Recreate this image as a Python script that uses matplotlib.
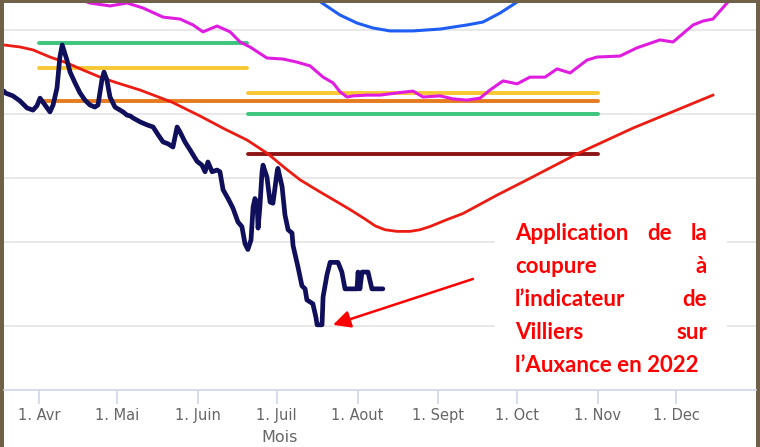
import matplotlib
matplotlib.use("Agg")
import matplotlib.pyplot as plt
from matplotlib.patches import Rectangle

W, H = 760, 447

# Débit journalier 2022 (L/s) ; abscisse en jour de l'année
jours_2022 = [77.6, 78.0, 81.0, 83.7, 86.4, 88.7, 90.2, 91.4, 93.3, 95.2, 96.4, 97.9,
              99.0, 99.9, 101.7, 102.9, 104.8, 106.7, 108.6, 110.5, 112.4, 113.6,
              115.1, 115.9, 117.0, 118.2, 120.1, 123.2, 124.7, 126.0, 127.0, 129.7,
              132.4, 134.7, 136.6, 138.5, 140.4, 142.3, 143.9, 145.0, 146.9, 148.8,
              151.5, 153.4, 154.6, 155.7, 157.3, 159.2, 160.3, 161.5, 163.4, 165.3,
              167.2, 168.7, 169.9, 171.0, 172.2, 173.0, 173.7, 174.5, 174.9, 175.6,
              176.4, 176.8, 178.3, 179.5, 180.6, 182.2, 182.5, 184.1, 185.2, 186.4,
              187.9, 188.3, 190.2, 191.7, 192.9, 193.6, 195.9, 197.1, 197.5, 199.4,
              199.8, 201.3, 202.5, 205.5, 207.0, 208.2, 212.8, 213.2, 213.9, 214.7,
              217.0, 218.5, 222.7]
debit_2022 = [257, 252, 244, 231, 214, 209, 219, 238, 221, 205, 221, 266,
              372, 424, 360, 316, 281, 252, 233, 221, 216, 221,
              290, 316, 290, 241, 216, 205, 198, 196, 192, 184,
              178, 174, 160, 148, 145, 140, 174, 165, 148, 136,
              120, 115, 107, 119, 107, 109, 107, 88, 80, 72,
              62, 59, 49, 46, 51, 73, 80, 77, 58, 73,
              106, 115, 101, 77, 76, 107, 111, 91, 67, 57,
              55, 48, 38, 31, 30, 26.6, 25.5, 21.9, 20.3, 20.3,
              27.5, 35, 40, 40, 36, 30, 30, 36, 30, 36,
              36, 30, 30]

# Courbe interannuelle médiane
jours_median = [77.6, 83.7, 88.7, 95.2, 101.7, 107.9, 114.4, 120.9, 129.7, 141.9,
                152.7, 162.2, 170.7, 178.7, 185.0, 191.0, 198.6, 204.5, 210.1, 215.9,
                219.7, 223.5, 228.1, 233.1, 236.9, 240.7, 246.9, 253.4, 266.4, 277.9,
                297.1, 318.5, 349.1]
debit_median = [424, 415, 402, 372, 349, 323, 299, 281, 260, 228,
                196, 170, 151, 130, 112, 98, 86, 78, 71, 64,
                59.5, 57, 56, 56, 57, 59, 63.4, 68, 83, 98,
                130, 172, 246]

# Courbe haute (quantile supérieur)
jours_haut = [77.6, 91.4, 110.5, 118.2, 124.7, 130.8, 138.5, 145.0, 150.0, 153.8,
              159.2, 164.2, 168.0, 171.8, 178.3, 184.5, 189.8, 194.8, 199.8, 203.6,
              206.3, 209.0, 211.3, 216.6, 221.6, 228.1, 234.2, 238.1, 244.6, 249.6,
              254.9, 259.9, 263.7, 268.7, 274.1, 279.0, 284.8, 289.4, 294.4, 300.9,
              304.7, 313.5, 320.0, 328.8, 333.8, 341.5, 345.3, 349.1, 354.5, 361.4]
debit_haut = [907, 813, 669, 648, 669, 634, 574, 562, 527, 489,
              521, 489, 438, 415, 368, 364, 352, 338, 299, 281,
              255, 241, 244, 246, 246, 252, 257, 241, 244, 236,
              233, 238, 260, 287, 278, 299, 299, 327, 313, 360,
              372, 376, 411, 448, 438, 527, 550, 562, 669, 813]

# Courbe très haute (estivale)
jours_max = [192.9, 199.4, 206.3, 212.8, 218.9, 225.4, 234.2, 244.6, 254.9,
             261.0, 267.6, 274.1, 277.9]
debit_max = [771, 669, 587, 538, 510, 494, 494, 504, 527,
             544, 600, 676, 754]

# Seuils de gestion : deux périodes d'application
periodes = [(91.0, 170.5), (171.0, 305.0)]
seuil_vert = [432, 200]
seuil_jaune = [330, 251]
seuil_orange = [231, 231]
seuil_rouge = [None, 130]

# Axe des mois
mois_jours = [91, 121, 152, 182, 213, 244, 274, 305, 335]
mois_labels = ["1. Avr", "1. Mai", "1. Juin", "1. Juil", "1. Aout",
               "1. Sept", "1. Oct", "1. Nov", "1. Dec"]
grille = [20, 50, 100, 200, 500]

fig = plt.figure(figsize=(W / 100, H / 100), dpi=100)
fig.patch.set_facecolor("#6f6048")
fig.add_artist(Rectangle((4 / W, 0), 752 / W, (H - 3) / H, transform=fig.transFigure,
                         facecolor="white", edgecolor="none", zorder=-1))

ax = fig.add_axes([4 / W, (H - 390) / H, 752 / W, 387 / H])
ax.set_facecolor("white")
ax.set_yscale("log")
ax.set_xlim(77.6, 365.6)
ax.set_ylim(10, 669)

for g in grille:
    ax.axhline(g, color="#e6e6e6", lw=1.3, zorder=1)

# Cadre blanc du commentaire (masque la grille)
ax.add_patch(Rectangle((495 / W, 1 - 385 / H), 232 / W, 180 / H, transform=fig.transFigure,
                       facecolor="white", edgecolor="none", zorder=1.5))

couleurs = {"vert": "#3cc57c", "jaune": "#f8c832", "orange": "#e57b1e", "rouge": "#8e1515"}
for nom, valeurs in [("vert", seuil_vert), ("jaune", seuil_jaune),
                     ("orange", seuil_orange), ("rouge", seuil_rouge)]:
    for (d0, d1), v in zip(periodes, valeurs):
        if v is None:
            continue
        ax.plot([d0, d1], [v, v], color=couleurs[nom], lw=2.8, solid_capstyle="round", zorder=2)

ax.plot(jours_median, debit_median, color="#ec1c12", lw=2.0, zorder=3,
        solid_joinstyle="round")
ax.plot(jours_haut, debit_haut, color="#e01ce0", lw=2.2, zorder=3,
        solid_joinstyle="round")
ax.plot(jours_max, debit_max, color="#1f5ef5", lw=2.2, zorder=3,
        solid_joinstyle="round")
ax.plot(jours_2022, debit_2022, color="#0f0f5c", lw=3.4, zorder=4,
        solid_joinstyle="round", solid_capstyle="round")

for s in ["top", "left", "right"]:
    ax.spines[s].set_visible(False)
ax.spines["bottom"].set_color("#ccd6eb")
ax.spines["bottom"].set_linewidth(1.2)
ax.set_yticks([])
ax.yaxis.set_minor_locator(matplotlib.ticker.NullLocator())
ax.set_xticks(mois_jours, mois_labels)
ax.tick_params(axis="x", length=10, width=1.2, color="#ccd6eb", labelcolor="#666666",
               labelsize=10.5, pad=3)

fig.text(280 / W, 1 - 438 / H, "Mois", ha="center", va="center",
         color="#666666", fontsize=11.5)

# Flèche vers le minimum de 2022
ax.annotate("", xy=(203.6, 20.3), xytext=(257.2, 33.4),
            arrowprops=dict(arrowstyle="-|>", color="#ff0000", lw=1.8,
                            mutation_scale=26, shrinkA=0, shrinkB=0), zorder=5)

# Commentaire justifié
lignes = [["Application", "de", "la"], ["coupure", "à"], ["l’indicateur", "de"],
          ["Villiers", "sur"], ["l’Auxance en 2022"]]
bases = [240, 273, 306, 339, 372]
x_gauche, x_droite = 515, 707
renderer = fig.canvas.get_renderer()
for mots, yb in zip(lignes, bases):
    objs = [fig.text(x_gauche / W, 1 - yb / H, m, ha="left", va="baseline",
                     color="#ff0000", fontsize=16, fontweight="bold",
                     family=["Lato", "DejaVu Sans"], zorder=6) for m in mots]
    if len(objs) == 1:
        continue
    largeurs = [o.get_window_extent(renderer).width for o in objs]
    ecart = (x_droite - x_gauche - sum(largeurs)) / (len(objs) - 1)
    x = x_gauche
    for o, w in zip(objs, largeurs):
        o.set_x(x / W)
        x += w + ecart

fig.savefig("out.png", dpi=100, facecolor=fig.get_facecolor())
